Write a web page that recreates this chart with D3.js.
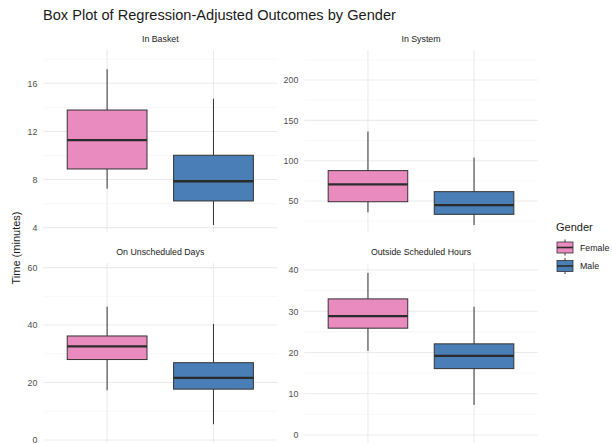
<!DOCTYPE html>
<html>
<head>
<meta charset="utf-8">
<script src="https://cdn.jsdelivr.net/npm/d3@7"></script>
<style>
  html, body { margin: 0; padding: 0; background: #ffffff; }
  svg { display: block; font-family: "Liberation Sans", Arial, sans-serif; }
</style>
</head>
<body>
<svg id="chart" width="612" height="443"></svg>
<script>
// Facet panels and the two gender groups
const panels = ["In Basket", "In System", "On Unscheduled Days", "Outside Scheduled Hours"];
const genders = ["Female", "Male"];

// Box-plot statistics per panel: [Female, Male]
const whiskerLow  = [[7.24, 4.22],  [36.0, 20.2],  [17.3, 5.5],  [20.4, 7.3]];
const boxLow      = [[8.88, 6.22],  [49.1, 33.5],  [28.0, 17.7], [25.9, 16.1]];
const medians     = [[11.27, 7.86], [70.7, 45.0],  [32.6, 21.6], [28.8, 19.2]];
const boxHigh     = [[13.78, 10.02],[87.7, 61.6],  [36.2, 26.9], [33.0, 22.1]];
const whiskerHigh = [[17.17, 14.72],[136.1, 103.8],[46.4, 40.4], [39.3, 31.1]];

// y-axis limits and tick values per panel
const yDomains   = [[3.64, 18.77], [11.6, 237.2], [-1.74, 61.6], [-2.42, 41.7]];
const majorTicks = [[4, 8, 12, 16], [50, 100, 150, 200], [0, 20, 40, 60], [0, 10, 20, 30, 40]];
const minorTicks = [[6, 10, 14, 18], [25, 75, 125, 175, 225], [10, 30, 50], [5, 15, 25, 35]];

const fills = { Female: "#E98BBF", Male: "#4A7EB7" };

const svg = d3.select("#chart");

// Facet grid geometry
const cols = [[43.3, 277.3], [304.3, 537.7]];
const rows = [[50, 232], [263, 445]];

svg.append("text")
  .attr("x", 43).attr("y", 20)
  .attr("font-size", 14.6)
  .attr("fill", "#1a1a1a")
  .text("Box Plot of Regression-Adjusted Outcomes by Gender");

svg.append("text")
  .attr("transform", "translate(20,248) rotate(-90)")
  .attr("text-anchor", "middle")
  .attr("font-size", 11)
  .attr("fill", "#1a1a1a")
  .text("Time (minutes)");

panels.forEach((name, i) => {
  const [x0, x1] = cols[i % 2];
  const [y0, y1] = rows[Math.floor(i / 2)];
  const x = d3.scalePoint().domain(genders).range([x0, x1]).padding(0.6);
  const y = d3.scaleLinear().domain(yDomains[i]).range([y1, y0]);
  const bw = x.step() * 0.75;
  const g = svg.append("g");

  // strip label
  g.append("text")
    .attr("x", (x0 + x1) / 2).attr("y", y0 - 8)
    .attr("text-anchor", "middle")
    .attr("font-size", 8.8)
    .attr("fill", "#1a1a1a")
    .text(name);

  // minor grid
  g.selectAll(".minor").data(minorTicks[i]).join("line")
    .attr("x1", x0).attr("x2", x1)
    .attr("y1", d => y(d)).attr("y2", d => y(d))
    .attr("stroke", "#f4f4f4").attr("stroke-width", 0.6);

  // major grid
  g.selectAll(".major").data(majorTicks[i]).join("line")
    .attr("x1", x0).attr("x2", x1)
    .attr("y1", d => y(d)).attr("y2", d => y(d))
    .attr("stroke", "#ebebeb").attr("stroke-width", 1.1);

  g.selectAll(".vgrid").data(genders).join("line")
    .attr("x1", d => x(d)).attr("x2", d => x(d))
    .attr("y1", y0).attr("y2", y1)
    .attr("stroke", "#ebebeb").attr("stroke-width", 1.1);

  // y axis labels
  const axis = d3.axisLeft(y).tickValues(majorTicks[i]).tickSize(0).tickPadding(6);
  const ag = g.append("g").attr("transform", `translate(${x0},0)`).call(axis);
  ag.select(".domain").remove();
  ag.selectAll("text")
    .attr("font-size", 8.8)
    .attr("fill", "#4d4d4d")
    .attr("font-family", "Liberation Sans, Arial, sans-serif");

  genders.forEach((gd, j) => {
    const cx = x(gd);
    // whiskers
    g.append("line")
      .attr("x1", cx).attr("x2", cx)
      .attr("y1", y(boxHigh[i][j])).attr("y2", y(whiskerHigh[i][j]))
      .attr("stroke", "#333333").attr("stroke-width", 1);
    g.append("line")
      .attr("x1", cx).attr("x2", cx)
      .attr("y1", y(boxLow[i][j])).attr("y2", y(whiskerLow[i][j]))
      .attr("stroke", "#333333").attr("stroke-width", 1);
    // box
    g.append("rect")
      .attr("x", cx - bw / 2).attr("width", bw)
      .attr("y", y(boxHigh[i][j]))
      .attr("height", y(boxLow[i][j]) - y(boxHigh[i][j]))
      .attr("fill", fills[gd])
      .attr("stroke", "#333333").attr("stroke-width", 1);
    // median
    g.append("line")
      .attr("x1", cx - bw / 2).attr("x2", cx + bw / 2)
      .attr("y1", y(medians[i][j])).attr("y2", y(medians[i][j]))
      .attr("stroke", "#2b2b2b").attr("stroke-width", 2.3);
  });
});

// Legend
const lg = svg.append("g");
lg.append("text")
  .attr("x", 556).attr("y", 231)
  .attr("font-size", 11)
  .attr("fill", "#1a1a1a")
  .text("Gender");

genders.forEach((gd, j) => {
  const cy = 247.5 + j * 18.5;
  const kx = 557, kw = 16;
  lg.append("line")
    .attr("x1", kx + kw / 2).attr("x2", kx + kw / 2)
    .attr("y1", cy - 8).attr("y2", cy + 8)
    .attr("stroke", "#333333").attr("stroke-width", 1);
  lg.append("rect")
    .attr("x", kx).attr("y", cy - 5.5)
    .attr("width", kw).attr("height", 11)
    .attr("fill", fills[gd])
    .attr("stroke", "#333333").attr("stroke-width", 0.8);
  lg.append("line")
    .attr("x1", kx).attr("x2", kx + kw)
    .attr("y1", cy).attr("y2", cy)
    .attr("stroke", "#2b2b2b").attr("stroke-width", 1.6);
  lg.append("text")
    .attr("x", 580).attr("y", cy + 3.2)
    .attr("font-size", 8.8)
    .attr("fill", "#1a1a1a")
    .text(gd);
});
</script>
</body>
</html>
